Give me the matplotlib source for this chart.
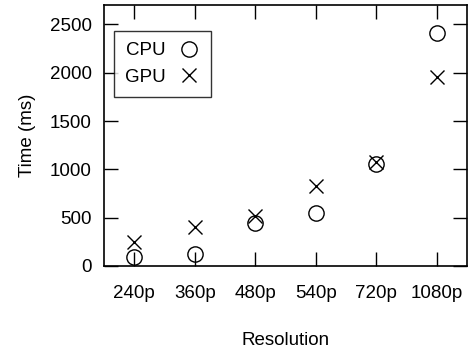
import numpy as np
import matplotlib.pyplot as plt

# Data
resolutions = ['240p', '360p', '480p', '540p', '720p', '1080p']
cpu_ms = [90, 120, 440, 545, 1055, 2415]
gpu_ms = [250, 400, 520, 830, 1075, 1960]

plt.rcParams['font.family'] = ['Liberation Sans', 'DejaVu Sans']
plt.rcParams['font.size'] = 13.5

fig = plt.figure(figsize=(4.73, 3.52), dpi=100)
ax = fig.add_axes([104 / 473, 1 - 266 / 352, (467 - 104) / 473, (266 - 5) / 352])

x = np.arange(len(resolutions))
ax.plot(x, cpu_ms, 'o', markersize=11, markerfacecolor='none',
        markeredgecolor='black', markeredgewidth=1.0, label='CPU')
ax.plot(x, gpu_ms, 'x', markersize=10, color='black',
        markeredgewidth=1.0, label='GPU')

ax.set_xlim(-0.5, len(resolutions) - 0.5)
ax.set_ylim(0, 2700)
ax.set_xticks(x)
ax.set_xticklabels(resolutions)
ax.set_yticks([0, 500, 1000, 1500, 2000, 2500])
ax.tick_params(direction='in', length=10, width=1, top=True, right=True)
ax.tick_params(axis='x', pad=14)
ax.tick_params(axis='y', pad=9)
for s in ax.spines.values():
    s.set_linewidth(1.2)

ax.set_xlabel('Resolution', labelpad=21)
ax.set_ylabel('Time (ms)', labelpad=10)

leg = ax.legend(loc='upper left', bbox_to_anchor=(10 / 363, 1 - 26 / 261),
                borderaxespad=0, markerfirst=False, frameon=True, fancybox=False,
                handlelength=1.2, handletextpad=0.6, borderpad=0.6,
                labelspacing=0.5)
leg.get_frame().set_edgecolor('black')
leg.get_frame().set_linewidth(1.0)

plt.savefig('out.png', dpi=100)
